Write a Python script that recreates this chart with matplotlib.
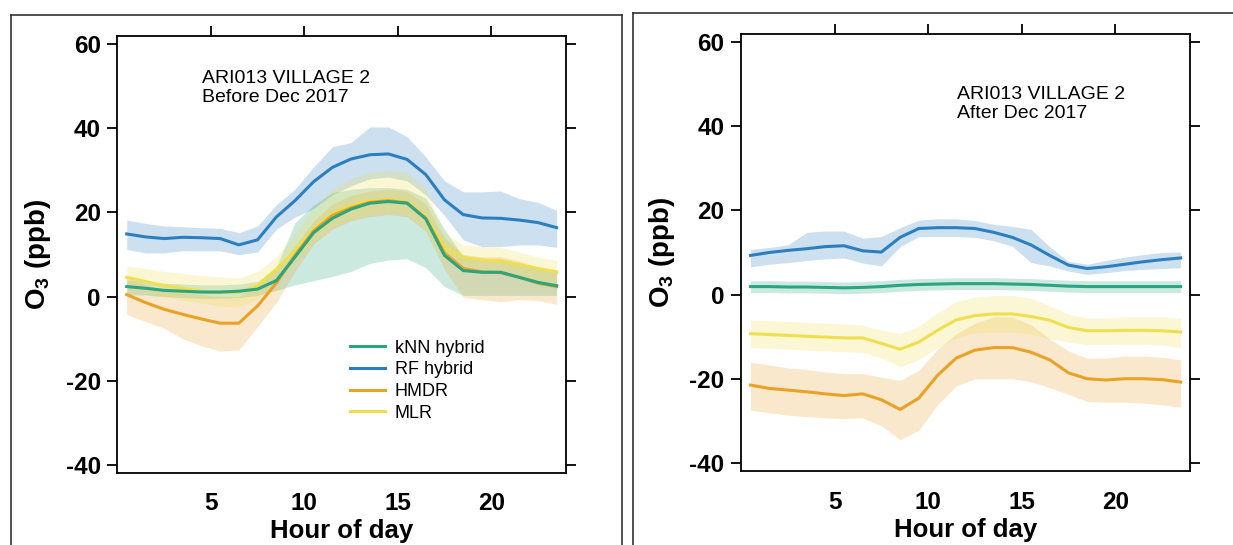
import numpy as np
import matplotlib
matplotlib.use("Agg")
import matplotlib.pyplot as plt
from matplotlib.lines import Line2D

plt.rcParams["font.family"] = ["Liberation Sans", "DejaVu Sans"]
plt.rcParams["mathtext.default"] = "regular"
plt.rcParams["axes.unicode_minus"] = False

hours = np.arange(0.5, 24.0, 1.0)
series = ["kNN hybrid", "RF hybrid", "HMDR", "MLR"]
colors = {"kNN hybrid": "#2aa57f", "RF hybrid": "#2b7fbf",
          "HMDR": "#e9a226", "MLR": "#efdf4f"}

# before Dec 2017: mean, upper, lower
knn_b = [2.4, 2.0, 1.5, 1.3, 1.1, 1.1, 1.3, 1.8, 3.8, 9.4, 15.2, 18.6, 20.8, 22.2, 22.6, 22.2, 18.5, 9.8, 6.2, 5.8, 5.8, 4.6, 3.4, 2.6]
knn_b_hi = [4.0, 3.6, 3.2, 3.0, 2.8, 2.8, 3.0, 3.6, 7.0, 17.6, 21.8, 24.7, 25.5, 25.9, 25.9, 25.5, 23.4, 16.0, 9.5, 9.0, 9.0, 8.0, 7.0, 6.0]
knn_b_lo = [0.5, 0.4, 0.0, -0.2, -0.4, -0.4, -0.2, 0.3, 1.5, 2.8, 3.8, 4.8, 6.0, 7.9, 8.7, 9.0, 6.9, 2.4, 0.3, 0.3, 0.3, 0.3, 0.3, 0.3]
rf_b = [14.9, 14.2, 13.8, 14.1, 14.0, 13.8, 12.3, 13.5, 18.9, 22.8, 27.3, 30.7, 32.7, 33.7, 33.9, 32.6, 29.0, 23.0, 19.5, 18.7, 18.6, 18.2, 17.6, 16.4]
rf_b_hi = [18.2, 17.4, 16.8, 16.6, 16.4, 16.2, 15.2, 16.8, 21.8, 25.5, 30.8, 35.6, 36.6, 40.3, 40.3, 38.0, 33.2, 27.5, 24.9, 24.9, 25.1, 23.3, 22.4, 20.5]
rf_b_lo = [11.2, 10.4, 10.4, 10.9, 10.9, 10.9, 10.0, 10.6, 16.0, 18.9, 20.9, 24.2, 26.3, 28.0, 28.4, 27.5, 24.2, 19.3, 13.5, 11.9, 11.9, 12.3, 12.3, 11.7]
hmdr_b = [0.5, -1.4, -3.0, -4.2, -5.3, -6.3, -6.3, -2.2, 3.2, 9.8, 15.6, 19.3, 21.1, 22.4, 22.8, 22.3, 18.6, 10.4, 6.7, 5.9, 5.7, 4.6, 3.2, 2.4]
hmdr_b_hi = [4.5, 3.0, 1.5, 1.0, 0.5, 0.0, 0.0, 3.0, 6.5, 12.0, 18.0, 22.0, 24.0, 25.0, 25.5, 25.0, 22.0, 14.0, 10.0, 9.5, 9.5, 8.5, 7.0, 6.0]
hmdr_b_lo = [-4.2, -5.9, -7.5, -10.0, -11.7, -12.9, -12.7, -7.1, -1.4, 6.0, 12.5, 16.0, 18.0, 19.0, 19.5, 19.0, 15.5, 6.5, -0.1, -0.7, -1.2, -0.7, -0.9, -1.8]
mlr_b = [4.6, 3.6, 2.6, 2.0, 1.3, 1.0, 1.0, 2.6, 6.5, 11.0, 16.0, 19.7, 21.6, 22.8, 23.0, 22.4, 18.9, 11.7, 9.4, 8.7, 8.4, 7.6, 6.7, 5.9]
mlr_b_hi = [7.3, 6.7, 6.0, 5.5, 5.0, 4.7, 4.4, 6.0, 9.4, 15.0, 21.0, 25.5, 28.0, 29.5, 30.0, 29.5, 25.5, 15.0, 12.3, 11.9, 11.7, 10.6, 9.4, 8.6]
mlr_b_lo = [2.0, 1.0, 0.0, -0.8, -1.5, -2.2, -2.5, -0.5, 3.5, 8.0, 13.0, 16.5, 18.5, 19.5, 20.0, 19.5, 16.0, 8.5, 6.5, 5.8, 5.5, 4.8, 4.0, 3.2]

# after Dec 2017
knn_a = [1.9, 1.9, 1.8, 1.8, 1.7, 1.6, 1.7, 1.9, 2.2, 2.4, 2.5, 2.6, 2.6, 2.6, 2.5, 2.4, 2.2, 2.0, 1.9, 1.9, 1.9, 1.9, 1.9, 1.9]
knn_a_hi = [3.3, 3.3, 3.2, 3.2, 3.1, 3.0, 3.1, 3.3, 3.6, 3.8, 3.9, 4.0, 4.0, 4.0, 3.9, 3.8, 3.6, 3.4, 3.3, 3.3, 3.3, 3.3, 3.3, 3.3]
knn_a_lo = [0.5, 0.5, 0.4, 0.4, 0.3, 0.2, 0.3, 0.5, 0.8, 1.0, 1.1, 1.2, 1.2, 1.2, 1.1, 1.0, 0.8, 0.6, 0.5, 0.5, 0.5, 0.5, 0.5, 0.5]
rf_a = [9.3, 10.0, 10.5, 10.9, 11.4, 11.6, 10.4, 10.1, 13.6, 15.7, 15.9, 15.9, 15.7, 14.8, 13.6, 11.8, 9.3, 7.0, 6.2, 6.6, 7.2, 7.8, 8.3, 8.7]
rf_a_hi = [10.7, 11.2, 11.8, 14.8, 15.1, 15.1, 13.4, 13.8, 15.9, 17.7, 18.0, 18.0, 17.6, 16.7, 16.2, 15.5, 11.4, 7.9, 7.2, 8.1, 8.9, 9.5, 10.0, 10.1]
rf_a_lo = [6.6, 7.2, 7.6, 8.1, 8.5, 8.7, 7.5, 6.8, 11.4, 13.8, 13.8, 13.8, 13.6, 12.8, 11.5, 7.6, 6.8, 5.6, 4.8, 5.2, 5.7, 6.0, 6.2, 6.4]
hmdr_a = [-21.5, -22.3, -22.7, -23.1, -23.6, -24.0, -23.6, -25.0, -27.3, -24.6, -19.2, -15.1, -13.2, -12.6, -12.6, -13.7, -15.5, -18.6, -20.0, -20.3, -20.0, -20.0, -20.2, -20.8]
hmdr_a_hi = [-16.1, -16.7, -17.4, -17.8, -18.4, -18.8, -18.8, -19.6, -20.4, -18.0, -13.0, -9.3, -6.8, -5.3, -5.3, -7.2, -10.5, -13.4, -15.1, -15.1, -14.6, -14.6, -14.9, -15.5]
hmdr_a_lo = [-27.5, -28.1, -28.6, -29.0, -29.3, -29.5, -29.3, -31.2, -34.5, -32.2, -26.2, -21.7, -20.0, -20.0, -20.0, -20.7, -22.1, -23.7, -25.4, -25.6, -25.6, -25.8, -26.2, -26.8]
mlr_a = [-9.3, -9.5, -9.7, -9.9, -10.1, -10.3, -10.3, -11.6, -13.0, -11.3, -8.5, -6.0, -5.0, -4.6, -4.6, -5.2, -6.1, -7.8, -8.6, -8.6, -8.5, -8.5, -8.6, -8.9]
mlr_a_hi = [-6.0, -6.2, -6.4, -6.6, -6.8, -7.0, -7.2, -8.5, -9.3, -7.6, -4.3, -1.7, -0.6, -0.2, -0.2, -0.9, -2.7, -4.7, -5.6, -5.6, -5.3, -5.3, -5.3, -5.6]
mlr_a_lo = [-12.6, -12.8, -13.0, -13.2, -13.4, -13.6, -13.7, -15.1, -17.1, -15.5, -12.6, -10.3, -9.1, -8.9, -8.9, -9.4, -10.5, -11.3, -11.9, -11.9, -11.8, -11.8, -12.0, -12.6]

before = {"kNN hybrid": (knn_b, knn_b_hi, knn_b_lo), "RF hybrid": (rf_b, rf_b_hi, rf_b_lo),
          "HMDR": (hmdr_b, hmdr_b_hi, hmdr_b_lo), "MLR": (mlr_b, mlr_b_hi, mlr_b_lo)}
after = {"kNN hybrid": (knn_a, knn_a_hi, knn_a_lo), "RF hybrid": (rf_a, rf_a_hi, rf_a_lo),
         "HMDR": (hmdr_a, hmdr_a_hi, hmdr_a_lo), "MLR": (mlr_a, mlr_a_hi, mlr_a_lo)}

fig = plt.figure(figsize=(12.33, 5.45), dpi=100)

# panel frames from the original screenshot
frame_kw = dict(color="#333333", lw=1.2, transform=fig.transFigure)
fig.add_artist(Line2D([10.7/1233, 10.7/1233], [0, 1-14.7/545], **frame_kw))
fig.add_artist(Line2D([10.7/1233, 622/1233], [1-14.7/545, 1-14.7/545], **frame_kw))
fig.add_artist(Line2D([622/1233, 622/1233], [0, 1-14.7/545], **frame_kw))
fig.add_artist(Line2D([633.3/1233, 633.3/1233], [0, 1-12.7/545], **frame_kw))
fig.add_artist(Line2D([633.3/1233, 1], [1-12.7/545, 1-12.7/545], **frame_kw))

ax1 = fig.add_axes([0.0952, 0.1327, 0.3638, 0.8004])
ax2 = fig.add_axes([0.6011, 0.1352, 0.3640, 0.8030])


def draw(ax, data, ylim, note, note_xy, legend=False):
    for name in ["RF hybrid", "kNN hybrid", "HMDR", "MLR"]:
        mean, hi, lo = data[name]
        ax.fill_between(hours, lo, hi, color=colors[name], alpha=0.24, lw=0)
    handles = {}
    for name in ["MLR", "HMDR", "RF hybrid", "kNN hybrid"]:
        mean = data[name][0]
        handles[name], = ax.plot(hours, mean, color=colors[name], lw=2.2, label=name)
    ax.set_xlim(0, 24)
    ax.set_ylim(*ylim)
    ax.set_xticks([5, 10, 15, 20])
    ax.set_yticks([-40, -20, 0, 20, 40, 60])
    ax.tick_params(axis="both", direction="out", length=7, width=1.3, labelsize=17.5)
    ax.tick_params(axis="x", bottom=False, top=True, pad=7)
    ax.tick_params(axis="y", left=True, right=True, pad=5)
    for lab in ax.get_xticklabels() + ax.get_yticklabels():
        lab.set_fontweight("bold")
    for sp in ax.spines.values():
        sp.set_linewidth(1.3)
    ax.set_xlabel("Hour of day", fontsize=18.5, fontweight="bold", labelpad=3)
    ax.set_ylabel("O$_3$ (ppb)", fontsize=20, fontweight="bold", labelpad=9)
    ax.text(note_xy[0], note_xy[1], note, transform=ax.transAxes, fontsize=14,
            va="top", ha="left", linespacing=1.2)
    if legend:
        ax.legend([handles[n] for n in series], series, loc="upper left",
                  bbox_to_anchor=(0.518, 0.305), frameon=False, fontsize=13,
                  handlelength=1.95, handletextpad=0.55, labelspacing=0.26,
                  borderpad=0, borderaxespad=0)


draw(ax1, before, (-41.8, 61.8), "ARI013 VILLAGE 2\nBefore Dec 2017", (0.188, 0.924), legend=True)
draw(ax2, after, (-42, 62), "ARI013 VILLAGE 2\nAfter Dec 2017", (0.481, 0.881))

fig.savefig("out.png", dpi=100)
